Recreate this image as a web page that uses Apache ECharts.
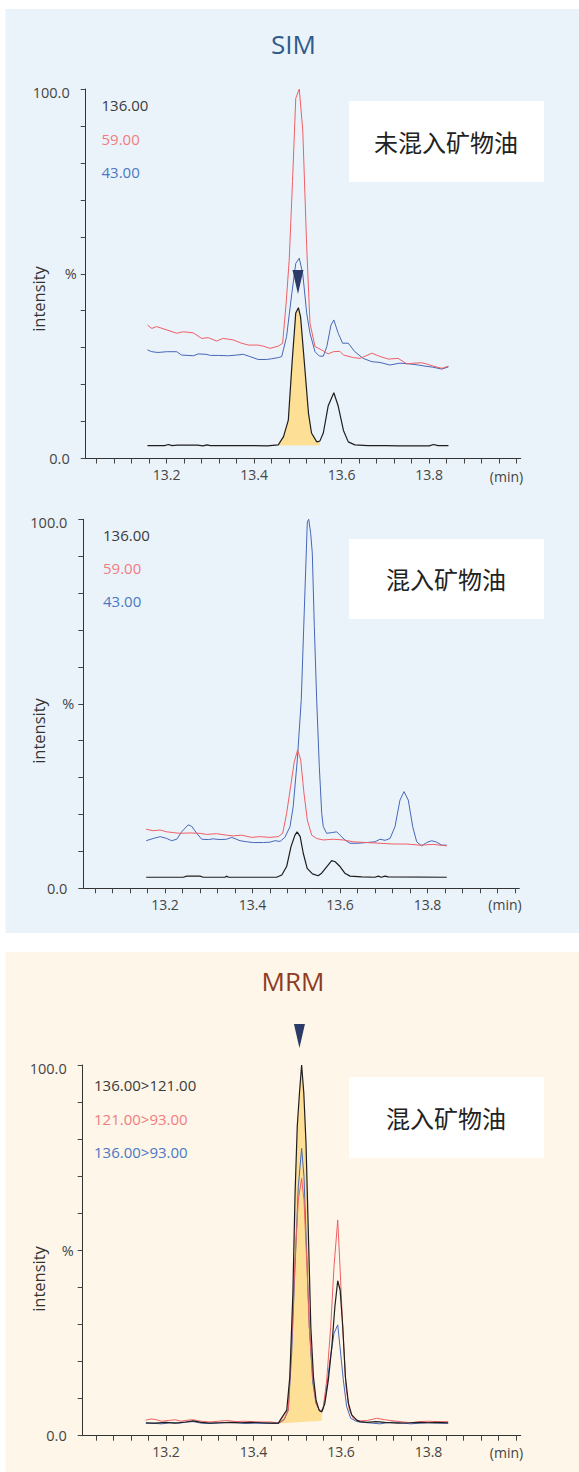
<!DOCTYPE html>
<html>
<head>
<meta charset="utf-8">
<script src="https://cdn.jsdelivr.net/npm/echarts@6/dist/echarts.min.js"></script>
<style>
  html, body { margin: 0; padding: 0; background: #ffffff; }
  #c { width: 579px; height: 1472px; }
</style>
</head>
<body>
<div id="c"></div>
<script>
// ---------------- DATA ----------------
const xLabelValues = [13.2, 13.4, 13.6, 13.8];
const yLabelValues = [0, 50, 100];
const yLabelTexts = ['0.0', '%', '100.0'];

const simTitle = 'SIM';
const mrmTitle = 'MRM';
const sim1BoxText = '未混入矿物油';
const sim2BoxText = '混入矿物油';
const mrmBoxText = '混入矿物油';
const simLegend = ['136.00', '59.00', '43.00'];
const mrmLegend = ['136.00>121.00', '121.00>93.00', '136.00>93.00'];

// SIM – 未混入矿物油  [time (min), intensity %]
const sim1_136 = [[13.156,3.5],[13.195,3.5],[13.204,3.8],[13.212,3.5],[13.225,3.6],[13.27,3.6],[13.283,3.4],[13.292,3.7],[13.30,3.5],[13.40,3.5],[13.43,3.4],[13.455,3.7],[13.467,5.9],[13.478,10.4],[13.487,26.7],[13.495,39.4],[13.501,40.8],[13.506,38.3],[13.516,24.0],[13.524,12.3],[13.531,6.9],[13.543,4.5],[13.550,4.7],[13.558,6.9],[13.569,14.2],[13.582,17.8],[13.592,14.2],[13.604,7.6],[13.615,4.5],[13.630,3.7],[13.66,3.5],[13.70,3.5],[13.73,3.4],[13.80,3.4],[13.81,3.8],[13.82,3.5],[13.844,3.5]];
const sim1_59 = [[13.156,36.1],[13.166,35.2],[13.177,35.7],[13.2,34.8],[13.223,33.9],[13.238,34.3],[13.261,34.0],[13.280,32.5],[13.295,32.7],[13.314,31.8],[13.329,32.5],[13.352,32.1],[13.371,31.2],[13.387,30.7],[13.409,30.7],[13.421,30.4],[13.436,29.8],[13.455,30.4],[13.465,31.2],[13.473,42.0],[13.480,53.7],[13.4876,75.0],[13.495,97.5],[13.503,100],[13.511,88.9],[13.52,57.3],[13.5275,36.6],[13.539,30.3],[13.554,29.4],[13.569,28.3],[13.581,28.9],[13.596,29.0],[13.604,28.0],[13.627,27.3],[13.642,27.1],[13.669,28.5],[13.688,27.6],[13.707,26.9],[13.729,27.1],[13.749,25.6],[13.764,25.8],[13.783,25.9],[13.794,25.6],[13.809,25.0],[13.829,24.4],[13.844,25.0]];
const sim1_43 = [[13.156,29.4],[13.166,28.9],[13.180,28.7],[13.2,28.9],[13.223,28.9],[13.234,28.0],[13.261,27.8],[13.272,28.3],[13.29,28.2],[13.30,27.9],[13.318,27.9],[13.341,27.8],[13.36,28.0],[13.375,28.2],[13.39,27.6],[13.409,26.8],[13.428,26.8],[13.44,27.0],[13.455,27.3],[13.463,27.6],[13.474,33.0],[13.486,44.7],[13.495,52.8],[13.503,54.2],[13.511,50.0],[13.52,39.3],[13.5275,33.9],[13.539,28.9],[13.549,27.7],[13.558,27.7],[13.566,30.3],[13.5755,36.1],[13.582,37.5],[13.592,33.9],[13.602,31.2],[13.615,31.2],[13.630,28.9],[13.649,27.1],[13.669,26.2],[13.6875,26.0],[13.710,25.3],[13.733,25.8],[13.756,25.6],[13.775,25.3],[13.7905,25.0],[13.809,24.7],[13.829,24.2],[13.844,24.8]];

// SIM – 混入矿物油
const sim2_136 = [[13.157,3.0],[13.242,3.0],[13.2496,3.3],[13.28,3.3],[13.2875,3.0],[13.337,3.0],[13.3415,3.3],[13.3447,3.0],[13.455,3.0],[13.467,3.6],[13.478,5.9],[13.488,11.3],[13.497,14.4],[13.502,15.3],[13.509,14.0],[13.516,9.5],[13.525,5.4],[13.537,3.9],[13.550,3.4],[13.558,4.1],[13.570,5.9],[13.581,7.5],[13.589,7.2],[13.60,5.9],[13.611,4.1],[13.623,3.3],[13.65,3.1],[13.68,3.0],[13.6875,3.3],[13.694,3.0],[13.703,3.3],[13.71,3.1],[13.844,3.0]];
const sim2_59 = [[13.157,16.0],[13.173,15.6],[13.189,15.8],[13.204,15.3],[13.219,15.1],[13.234,14.9],[13.257,15.0],[13.28,14.9],[13.295,14.6],[13.318,14.8],[13.341,14.4],[13.356,14.2],[13.375,14.4],[13.398,13.8],[13.417,14.0],[13.44,13.8],[13.459,14.0],[13.469,14.9],[13.478,20.3],[13.487,27.5],[13.4955,34.3],[13.5033,37.5],[13.5102,34.8],[13.5177,25.7],[13.5253,18.5],[13.5353,14.4],[13.5467,13.5],[13.5618,13.1],[13.585,13.3],[13.6075,13.1],[13.6304,12.6],[13.661,12.4],[13.6914,12.2],[13.722,12.0],[13.7525,12.0],[13.783,11.7],[13.813,11.9],[13.844,11.5]];
const sim2_43 = [[13.157,12.9],[13.173,13.5],[13.189,14.0],[13.204,13.5],[13.215,12.9],[13.227,13.3],[13.238,15.3],[13.253,17.2],[13.261,16.8],[13.2725,14.9],[13.284,13.3],[13.299,13.2],[13.310,13.4],[13.326,13.2],[13.341,13.3],[13.3525,13.8],[13.3714,12.9],[13.387,12.6],[13.402,12.4],[13.425,12.4],[13.44,12.5],[13.4514,12.9],[13.463,12.7],[13.474,13.8],[13.4857,16.7],[13.493,22.1],[13.5024,34.8],[13.5115,51.1],[13.5184,75.4],[13.5253,99.3],[13.5285,100],[13.533,96.2],[13.5367,90.8],[13.5413,70.9],[13.5467,51.1],[13.5527,33.0],[13.5582,20.3],[13.5618,16.7],[13.5696,14.9],[13.581,15.1],[13.5925,15.3],[13.60,14.4],[13.6114,13.1],[13.6229,12.2],[13.64,12.2],[13.661,12.4],[13.68,12.6],[13.6914,13.3],[13.703,13.0],[13.7143,13.5],[13.7257,16.7],[13.7371,23.9],[13.7463,26.2],[13.7561,23.9],[13.7662,16.7],[13.7753,12.6],[13.7867,11.5],[13.7982,12.4],[13.8096,12.9],[13.821,12.5],[13.8324,11.7],[13.844,11.7]];

// MRM – 混入矿物油
const mrm_136_121 = [[13.154,3.5],[13.175,3.4],[13.20,3.6],[13.221,3.4],[13.245,3.7],[13.262,4.0],[13.28,3.6],[13.30,3.4],[13.323,3.5],[13.35,3.6],[13.37,3.5],[13.392,3.6],[13.42,3.5],[13.44,3.4],[13.457,3.4],[13.461,4.2],[13.476,6.9],[13.483,15.9],[13.490,38.4],[13.495,65.4],[13.500,83.4],[13.505,92.4],[13.510,100],[13.515,92.4],[13.520,78.9],[13.525,56.4],[13.531,29.4],[13.537,15.9],[13.543,9.6],[13.550,6.9],[13.556,6.4],[13.563,8.7],[13.571,15.0],[13.579,24.0],[13.586,34.8],[13.5925,41.8],[13.598,39.3],[13.604,29.4],[13.610,15.9],[13.617,8.7],[13.6245,5.6],[13.636,4.2],[13.643,3.8],[13.66,3.6],[13.68,3.8],[13.70,3.6],[13.73,3.4],[13.758,3.5],[13.78,3.6],[13.80,3.5],[13.82,3.6],[13.845,3.5]];
const mrm_121_93 = [[13.154,4.2],[13.165,4.5],[13.175,4.4],[13.19,3.9],[13.205,4.1],[13.221,4.3],[13.235,3.9],[13.25,4.2],[13.262,4.3],[13.28,3.9],[13.30,3.7],[13.32,3.9],[13.34,4.1],[13.36,3.8],[13.38,3.9],[13.40,3.8],[13.42,3.7],[13.44,3.7],[13.457,3.4],[13.470,4.5],[13.4795,6.9],[13.487,24.9],[13.495,47.4],[13.5024,63.6],[13.510,69.4],[13.5154,63.6],[13.5216,47.4],[13.5275,29.4],[13.5353,15.9],[13.5429,8.7],[13.552,6.5],[13.5595,7.5],[13.5673,15.0],[13.5765,29.4],[13.584,45.6],[13.5925,58.2],[13.5977,45.6],[13.6039,29.4],[13.6114,13.2],[13.619,6.9],[13.6281,4.7],[13.6359,4.2],[13.6434,4.0],[13.66,4.1],[13.6816,4.7],[13.70,4.3],[13.72,4.0],[13.7577,3.5],[13.78,3.8],[13.80,3.9],[13.82,3.8],[13.845,3.8]];
const mrm_136_93 = [[13.154,3.3],[13.175,3.3],[13.19,3.2],[13.21,3.5],[13.23,3.4],[13.25,3.7],[13.262,3.8],[13.28,3.4],[13.30,3.3],[13.32,3.4],[13.34,3.6],[13.36,3.5],[13.38,3.3],[13.40,3.4],[13.42,3.3],[13.44,3.3],[13.457,3.3],[13.470,4.3],[13.4795,6.9],[13.4873,22.2],[13.4949,45.6],[13.5024,67.2],[13.510,77.5],[13.5154,69.9],[13.5216,49.2],[13.5275,29.4],[13.5353,14.5],[13.5429,8.7],[13.552,6.5],[13.5582,6.9],[13.5657,11.4],[13.5749,20.4],[13.584,27.6],[13.5925,29.9],[13.5977,24.0],[13.6053,15.0],[13.613,7.8],[13.6222,4.7],[13.6359,3.8],[13.66,3.5],[13.6891,3.2],[13.70,3.4],[13.72,3.7],[13.74,3.4],[13.76,3.2],[13.78,3.4],[13.80,3.5],[13.82,3.4],[13.845,3.3]];

// integrated peak (shaded) ranges and baselines
const sim1FillRange = [13.455, 13.550];
const sim1FillBase = [3.5, 3.5];
const mrmFillRange = [13.457, 13.556];
const mrmFillBase = [3.3, 4.0];

// peak markers
const sim1Marker = [13.5, 47.8];
const mrmMarker = [13.505, 100];

// ---------------- STYLE ----------------
const C_BLACK = '#1e1e1e', C_RED = '#ef5f64', C_BLUE = '#4667b8';
const C_LEG_BLACK = '#3a3a3a', C_LEG_RED = '#f27c80', C_LEG_BLUE = '#4a78c4';
const FILL = '#fedf96';
const MARK = '#2c3a68';
const LATIN = '"Open Sans", "Noto Sans", sans-serif';
const CJK = '"Noto Sans CJK SC", sans-serif';

const xTickValues = [];
for (let k = 1; k <= 25; k++) xTickValues.push(+(13 + 0.04 * k).toFixed(2));

const grids = [
  { left: 85.7, top: 89, width: 435, height: 369.5 },
  { left: 83.3, top: 519.3, width: 436, height: 369 },
  { left: 82.7, top: 1065, width: 438, height: 370.7 }
];
const xRanges = [[13.01486, 14.00914], [13.01326, 14.00983], [13.0096, 14.01074]];

function xAxis(i) {
  return {
    type: 'value', gridIndex: i, min: xRanges[i][0], max: xRanges[i][1],
    axisLine: { show: true, onZero: false, lineStyle: { color: '#333', width: 1 } },
    axisTick: { show: true, length: 5, customValues: xTickValues, lineStyle: { color: '#444' } },
    axisLabel: { customValues: xLabelValues, formatter: v => v.toFixed(1), margin: 9,
      color: '#454545', fontSize: 14, fontFamily: LATIN },
    splitLine: { show: false }
  };
}
function yAxis(i) {
  return {
    type: 'value', gridIndex: i, min: 0, max: 100, interval: 10,
    axisLine: { show: true, lineStyle: { color: '#333', width: 1 } },
    axisTick: { show: true, length: 5, lineStyle: { color: '#444' } },
    axisLabel: {
      margin: 9, color: '#454545', fontSize: 14.5, fontFamily: LATIN,
      formatter: v => {
        const k = yLabelValues.indexOf(v);
        if (k < 0) return '';
        if (v === 100) return '{t|' + yLabelTexts[k] + '}';
        if (v === 0) return '{n|' + yLabelTexts[k] + '}';
        return yLabelTexts[k];
      },
      rich: {
        t: { padding: [7, 7, 0, 0], color: '#454545', fontSize: 14.5, fontFamily: LATIN },
        n: { padding: [0, 7, 0, 0], color: '#454545', fontSize: 14.5, fontFamily: LATIN }
      }
    },
    splitLine: { show: false }
  };
}
function line(i, data, color, width, z, extra) {
  return Object.assign({
    type: 'line', xAxisIndex: i, yAxisIndex: i, data, showSymbol: false, symbol: 'none',
    lineStyle: { color, width }, itemStyle: { color }, z, silent: true, animation: false
  }, extra || {});
}
function fill(i, curve, range, base) {
  const pts = curve.filter(p => p[0] >= range[0] - 1e-9 && p[0] <= range[1] + 1e-9);
  return {
    type: 'custom', xAxisIndex: i, yAxisIndex: i, z: 1, silent: true, animation: false,
    data: [[pts[0][0], pts[0][1]]], encode: { x: 0, y: 1 },
    renderItem: (params, api) => {
      const poly = [api.coord([range[0], base[0]])]
        .concat(pts.map(p => api.coord(p)))
        .concat([api.coord([range[1], base[1]])]);
      return { type: 'polygon', shape: { points: poly }, style: { fill: FILL } };
    }
  };
}
const markerSymbol = 'path://M0,0L10,0L5,20Z';

function txt(x, y, text, color, size, family, align, extra) {
  return Object.assign({
    type: 'text', x, y, z: 100, silent: true,
    style: { text, fill: color, fontSize: size, fontFamily: family,
      align: align || 'left', verticalAlign: 'middle',
      textAlign: align || 'left', textVerticalAlign: 'middle' }
  }, extra || {});
}
function rect(x, y, w, h, color, z) {
  return { type: 'rect', x, y, z: z, silent: true, shape: { x: 0, y: 0, width: w, height: h }, style: { fill: color } };
}

const graphics = [
  rect(5.5, 9, 573.5, 924, '#ebf3fa', -10),
  rect(5.5, 952, 573.5, 520, '#fdf6e9', -10),
  rect(349, 101, 195, 81, '#ffffff', -5),
  rect(349, 539, 195, 80, '#ffffff', -5),
  rect(349, 1077, 195, 81, '#ffffff', -5),
  txt(293.5, 44, simTitle, '#2f5c8a', 26, LATIN, 'center'),
  txt(293, 981, mrmTitle, '#8e3b24', 26, LATIN, 'center'),
  txt(446, 141, sim1BoxText, '#222', 24, CJK, 'center'),
  txt(446, 578, sim2BoxText, '#222', 24, CJK, 'center'),
  txt(446, 1117, mrmBoxText, '#222', 24, CJK, 'center'),
  txt(101.5, 105, simLegend[0], C_LEG_BLACK, 15, LATIN),
  txt(101.5, 139, simLegend[1], C_LEG_RED, 15, LATIN),
  txt(101.5, 172, simLegend[2], C_LEG_BLUE, 15, LATIN),
  txt(103, 535, simLegend[0], C_LEG_BLACK, 15, LATIN),
  txt(103, 568, simLegend[1], C_LEG_RED, 15, LATIN),
  txt(103, 601, simLegend[2], C_LEG_BLUE, 15, LATIN),
  txt(94, 1085, mrmLegend[0], C_LEG_BLACK, 15, LATIN),
  txt(94, 1119, mrmLegend[1], C_LEG_RED, 15, LATIN),
  txt(94, 1152, mrmLegend[2], C_LEG_BLUE, 15, LATIN),
  txt(38.5, 299, 'intensity', '#333', 16.5, LATIN, 'center', { rotation: Math.PI / 2 }),
  txt(38.5, 731, 'intensity', '#333', 16.5, LATIN, 'center', { rotation: Math.PI / 2 }),
  txt(38.5, 1279, 'intensity', '#333', 16.5, LATIN, 'center', { rotation: Math.PI / 2 }),
  txt(506.5, 476, '(min)', '#454545', 14, LATIN, 'center'),
  txt(505, 904, '(min)', '#454545', 14, LATIN, 'center'),
  txt(506.5, 1452, '(min)', '#454545', 14, LATIN, 'center')
];

const option = {
  animation: false,
  backgroundColor: '#ffffff',
  grid: grids,
  xAxis: [xAxis(0), xAxis(1), xAxis(2)],
  yAxis: [yAxis(0), yAxis(1), yAxis(2)],
  graphic: { elements: graphics },
  series: [
    fill(0, sim1_136, sim1FillRange, sim1FillBase),
    line(0, sim1_43, C_BLUE, 1, 3),
    line(0, sim1_59, C_RED, 1, 4),
    line(0, sim1_136, C_BLACK, 1.2, 5, {
      markPoint: { symbol: markerSymbol, symbolSize: [11, 24], silent: true,
        itemStyle: { color: MARK }, label: { show: false },
        data: [{ coord: sim1Marker }] }
    }),
    line(1, sim2_43, C_BLUE, 1, 3),
    line(1, sim2_59, C_RED, 1, 4),
    line(1, sim2_136, C_BLACK, 1.2, 5),
    fill(2, mrm_136_121, mrmFillRange, mrmFillBase),
    line(2, mrm_136_93, C_BLUE, 1, 3),
    line(2, mrm_121_93, C_RED, 1, 4),
    line(2, mrm_136_121, C_BLACK, 1.2, 5, {
      markPoint: { symbol: markerSymbol, symbolSize: [11, 24], silent: true,
        itemStyle: { color: MARK }, label: { show: false },
        data: [{ coord: mrmMarker, symbolOffset: [0, -29] }] }
    })
  ]
};

const chart = echarts.init(document.getElementById('c'), null, { renderer: 'svg', width: 579, height: 1472 });
chart.setOption(option);
</script>
</body>
</html>
